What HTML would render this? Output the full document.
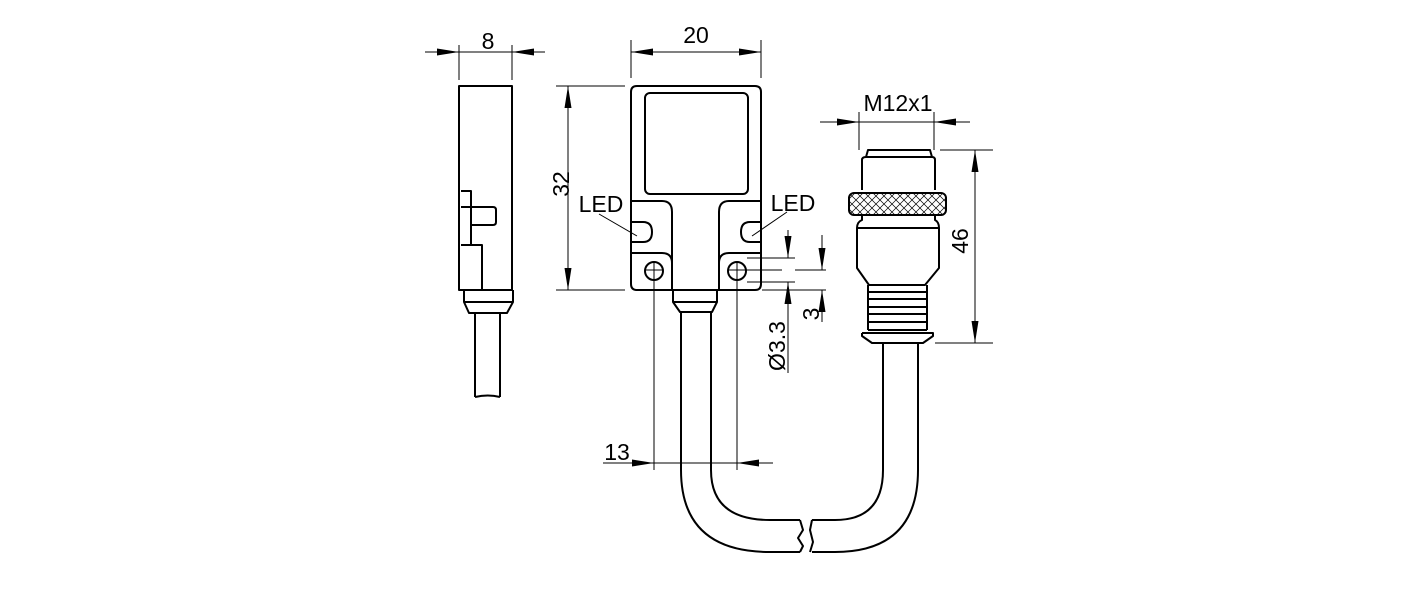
<!DOCTYPE html>
<html><head><meta charset="utf-8"><style>
html,body{margin:0;padding:0;background:#fff}
svg{display:block}
text{font-family:"Liberation Sans",sans-serif;font-size:23px;fill:#000}
</style></head><body>
<svg width="1417" height="591" viewBox="0 0 1417 591" xmlns="http://www.w3.org/2000/svg">
<defs>
<marker id="a" viewBox="0 0 22 8" refX="22" refY="4" markerWidth="22" markerHeight="8" markerUnits="userSpaceOnUse" orient="auto"><path d="M0,0.5 L22,4 L0,7.5 Z" fill="#000"/></marker>
<pattern id="kn" width="8" height="8" patternUnits="userSpaceOnUse"><path d="M0,0 L8,8 M8,0 L0,8" stroke="#000" stroke-width="0.7"/></pattern>
</defs>
<g fill="none" stroke="#000" stroke-width="2" stroke-linejoin="round">
<rect x="459" y="86" width="53" height="204"/>
<path d="M461,191 H471 V245 M461,207 H493 Q496,207 496,210 V222 Q496,225 493,225 H471 M461,245 H482 V290"/>
<path d="M464,290 V302 L469,313 V313 H507 L513,302 V290 M464,302 H513"/>
<path d="M475,313 V397 M500,313 V397 M475,397 Q488,394 500,397"/>
<path d="M637,86 H755 Q761,86 761,92 V284 Q761,290 755,290 H719 V290 H672 H637 Q631,290 631,284 V92 Q631,86 637,86 Z"/>
<rect x="645" y="93" width="103" height="101" rx="5"/>
<path d="M631,201 H662 Q672,201 672,212 V290 M761,201 H729 Q719,201 719,212 V290"/>
<path d="M631,253 H662 Q672,253 672,263 M761,253 H729 Q719,253 719,263"/>
<path d="M631,222 H643 Q652,222 652,232 Q652,242 643,242 H631"/>
<path d="M761,222 H750 Q741,222 741,232 Q741,242 750,242 H761"/>
<circle cx="654" cy="271" r="9"/>
<circle cx="737" cy="271" r="9"/>
<path d="M673,290 V302 L680,312 H712 L717,302 V290 M673,302 H717"/>
<path d="M681,312 V470 Q681,552 770,552 H800 M711,312 V470 Q711,520 770,520 H800"/>
<path d="M800,520 L803,530 L798,538 L803,546 L800,552 M812,520 L810,530 L813,542 L810,552"/>
<path d="M812,552 H835 Q918,552 918,470 V343 M812,520 H835 Q883,520 883,470 V343"/>
<path d="M866,157 L868,150 H930 L932,157 M862,190 V160 Q862,157 866,157 H932 Q935,157 935,160 V190"/>
<rect x="849" y="193" width="97" height="22" rx="5" fill="url(#kn)"/>
<path d="M862,215 V220 Q857,222 857,228 V268 L869,285 H925 L939,268 V228 Q939,222 935,220 V215 M857,228 H939"/>
<path d="M868,285 V330 M927,285 V330 M868,292 H927 M868,299 H927 M868,307 H927 M868,314 H927 M868,322 H927 M868,330 H927 M862,333 V336 L872,343 H923 L933,336 V333 H862"/>
</g>
<g fill="none" stroke="#000" stroke-width="1">
<path d="M459,45 V80 M512,45 V80 M631,40 V78 M761,40 V78 M556,86 H625 M556,290 H625"/>
<path d="M859,112 V150 M934,112 V150 M940,150 H993 M935,343 H993"/>
<path d="M654,262 V470 M737,262 V470 M646,270 H662 M729,270 H782 M795,270 H826 M747,258 H795 M747,282 H795 M762,290 H826 M788,286 V373 M822,290 V322"/>
<path d="M603,463 H773"/>
<path d="M599,214 L637,236 M787,212 L752,236"/>
<path d="M425,52 H459" marker-end="url(#a)"/>
<path d="M545,52 H512" marker-end="url(#a)"/>
<path d="M459,52 H512"/>
<path d="M696,52 H631" marker-end="url(#a)"/>
<path d="M696,52 H761" marker-end="url(#a)"/>
<path d="M568,188 V86" marker-end="url(#a)"/>
<path d="M568,188 V290" marker-end="url(#a)"/>
<path d="M820,122 H859" marker-end="url(#a)"/>
<path d="M970,122 H934" marker-end="url(#a)"/>
<path d="M859,122 H934"/>
<path d="M975,246 V150" marker-end="url(#a)"/>
<path d="M975,246 V343" marker-end="url(#a)"/>
<path d="M788,230 V258" marker-end="url(#a)"/>
<path d="M822,235 V270" marker-end="url(#a)"/>
<path d="M822,322 V290" marker-end="url(#a)"/>
<path d="M788,310 V282" marker-end="url(#a)"/>
<path d="M630,463 H654" marker-end="url(#a)"/>
<path d="M760,463 H737" marker-end="url(#a)"/>
</g>
<text x="488" y="49" text-anchor="middle">8</text>
<text x="696" y="43" text-anchor="middle">20</text>
<text x="898" y="111" text-anchor="middle">M12x1</text>
<text x="601" y="212" text-anchor="middle">LED</text>
<text x="793" y="211" text-anchor="middle">LED</text>
<text x="617" y="460" text-anchor="middle">13</text>
<text transform="translate(569,184) rotate(-90)" text-anchor="middle">32</text>
<text transform="translate(968,241) rotate(-90)" text-anchor="middle">46</text>
<text transform="translate(819,314) rotate(-90)" text-anchor="middle">3</text>
<text transform="translate(785,346) rotate(-90)" text-anchor="middle">Ø3.3</text>
</svg>
</body></html>
